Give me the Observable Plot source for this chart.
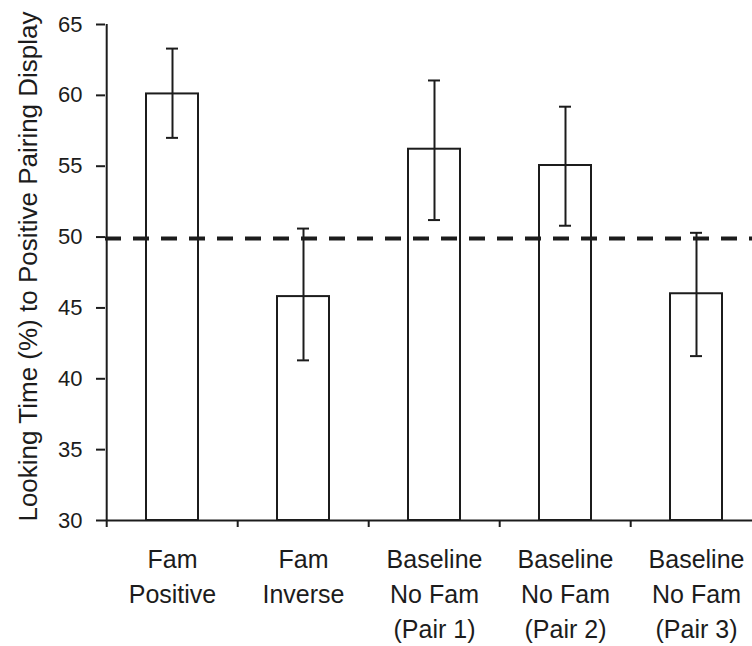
<!DOCTYPE html>
<html>
<head>
<meta charset="utf-8">
<script src="https://cdn.jsdelivr.net/npm/d3@7"></script>
<script src="https://cdn.jsdelivr.net/npm/@observablehq/plot@0.6"></script>
<style>
  html, body { margin: 0; padding: 0; background: #fff; overflow: hidden; }
  #chart svg { display: block; }
</style>
</head>
<body>
<div id="chart"></div>
<script>
// ---- data ----
const categories = [
  "Fam\nPositive",
  "Fam\nInverse",
  "Baseline\nNo Fam\n(Pair 1)",
  "Baseline\nNo Fam\n(Pair 2)",
  "Baseline\nNo Fam\n(Pair 3)"
];
const means   = [60.1, 45.8, 56.2, 55.05, 46.0];
const errLow  = [57.0, 41.3, 51.2, 50.8, 41.6];
const errHigh = [63.3, 50.6, 61.05, 59.2, 50.3];
const yTicks  = [30, 35, 40, 45, 50, 55, 60, 65];
const yDomain = [30, 65];
const chanceLevel = [49.9];
const yLabel = "Looking Time (%) to Positive Pairing Display";

const data = categories.map((c, i) => ({cat: c, mean: means[i], lo: errLow[i], hi: errHigh[i]}));

const ink = "#1c1c1c";
const font = "'Liberation Sans', Arial, sans-serif";
const halfStep = (763 - 105) / categories.length / 2;

const chart = Plot.plot({
  width: 752,
  height: 646,
  marginTop: 24,
  marginBottom: 126,
  marginLeft: 105,
  marginRight: 0,
  style: {fontFamily: font, fontSize: "22px", color: ink, background: "#fff"},
  x: {domain: categories, range: [105, 763], paddingInner: 0.605, paddingOuter: 0.3025, axis: null},
  y: {domain: yDomain, axis: null},
  marks: [
    // bars
    Plot.barY(data, {x: "cat", y1: () => yDomain[0], y2: "mean", fill: "#fff", stroke: ink, strokeWidth: 2}),
    // chance line
    Plot.ruleY(chanceLevel, {stroke: ink, strokeWidth: 4, strokeDasharray: "16,12"}),
    // error bars
    Plot.ruleX(data, {x: "cat", y1: "lo", y2: "hi", stroke: ink, strokeWidth: 2}),
    Plot.tickY(data, {x: "cat", y: "hi", stroke: ink, strokeWidth: 2, insetLeft: 20, insetRight: 20}),
    Plot.tickY(data, {x: "cat", y: "lo", stroke: ink, strokeWidth: 2, insetLeft: 20, insetRight: 20}),
    // axes lines
    Plot.ruleY([yDomain[0]], {stroke: ink, strokeWidth: 2}),
    Plot.ruleX([categories[0]], {x: d => d, dx: -halfStep, y1: () => yDomain[0], y2: () => yDomain[1], stroke: ink, strokeWidth: 2}),
    // x ticks at category boundaries
    Plot.ruleX(categories, {x: d => d, dx: -halfStep, y1: () => yDomain[0], y2: () => yDomain[0], insetBottom: -7, stroke: ink, strokeWidth: 2}),
    // y ticks
    Plot.ruleY(yTicks, {y: d => d, insetLeft: -9, insetRight: 752 - 105, stroke: ink, strokeWidth: 2}),
    // y tick labels
    Plot.text(yTicks, {y: d => d, text: d => String(d), frameAnchor: "left", textAnchor: "end", dx: -23, fontSize: 22, fill: ink}),
    // x tick labels
    Plot.text(data, {x: "cat", y: () => yDomain[0], text: "cat", lineAnchor: "top", dy: 23, lineHeight: 1.4, fontSize: 25, fill: ink}),
    // y label
    Plot.text([yLabel], {frameAnchor: "left", textAnchor: "middle", rotate: -90, dx: -77, dy: -6, fontSize: 26, fill: ink})
  ]
});
document.getElementById("chart").appendChild(chart);
</script>
</body>
</html>
